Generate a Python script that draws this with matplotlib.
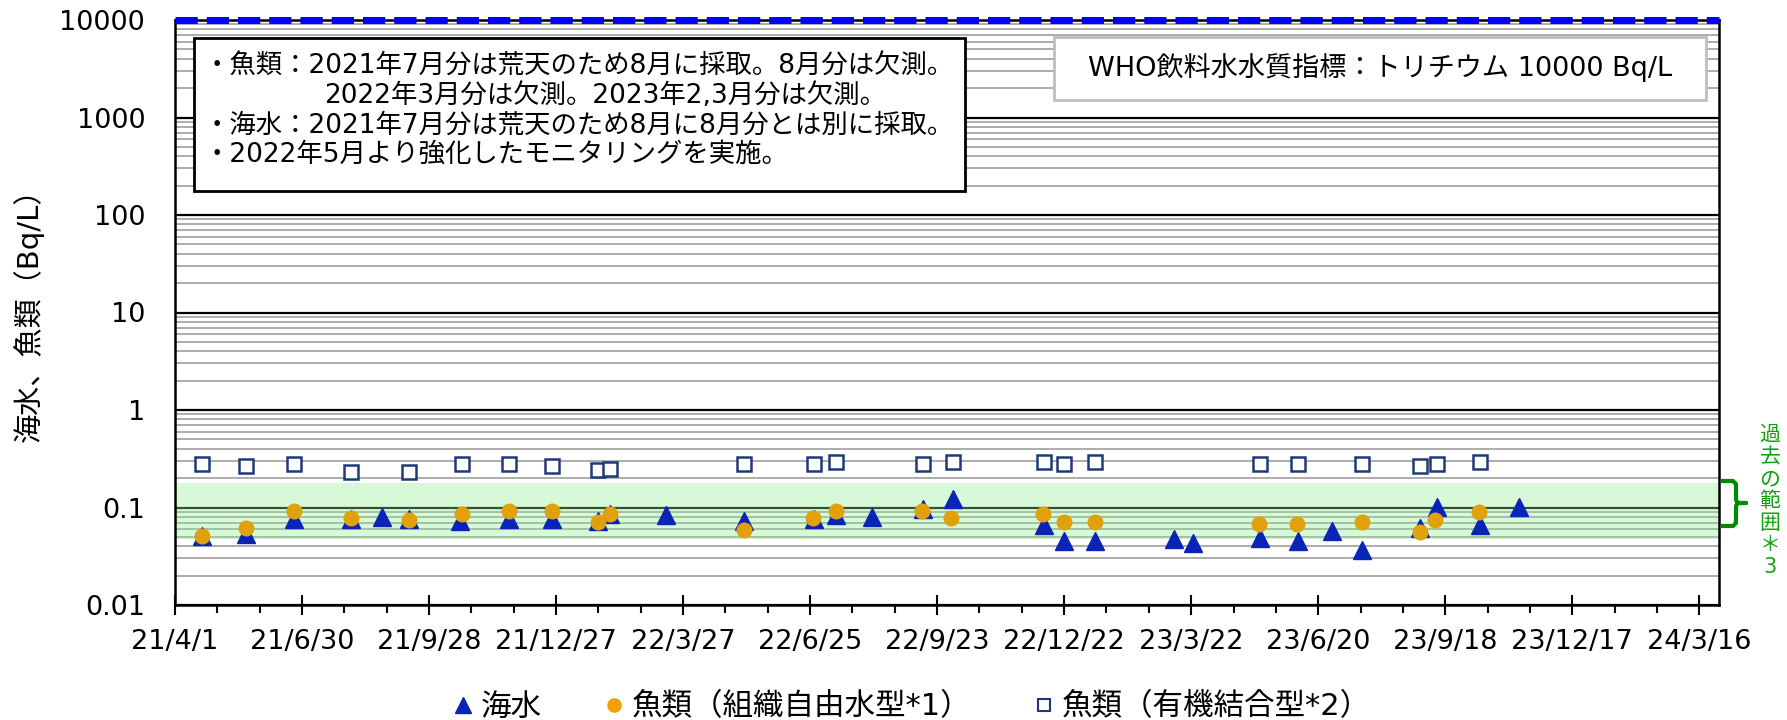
import numpy as np
import matplotlib.pyplot as plt
import matplotlib.dates as mdates
from matplotlib.lines import Line2D
from matplotlib.patches import Rectangle
from matplotlib.ticker import FixedLocator, NullFormatter, LogLocator

plt.rcParams['font.family'] = ['DejaVu Sans', 'Noto Sans CJK JP']

# 海水
sea_dates = ['2021-04-20', '2021-05-21', '2021-06-24', '2021-08-04', '2021-08-26', '2021-09-14',
             '2021-10-20', '2021-11-24', '2021-12-24', '2022-01-26', '2022-02-03', '2022-03-15',
             '2022-05-09', '2022-06-28', '2022-07-13', '2022-08-08', '2022-09-13', '2022-10-04',
             '2022-12-08', '2022-12-22', '2023-01-13', '2023-03-10', '2023-03-23', '2023-05-10',
             '2023-06-06', '2023-06-30', '2023-07-21', '2023-08-31', '2023-09-12', '2023-10-13',
             '2023-11-09']
sea_vals = [0.051, 0.054, 0.076, 0.076, 0.080, 0.076,
            0.072, 0.076, 0.076, 0.072, 0.085, 0.084,
            0.072, 0.076, 0.084, 0.080, 0.097, 0.123,
            0.066, 0.045, 0.045, 0.047, 0.043, 0.049,
            0.045, 0.058, 0.037, 0.062, 0.102, 0.066,
            0.102]

# 魚類（組織自由水型）
ffree_dates = ['2021-04-20', '2021-05-21', '2021-06-24', '2021-08-04', '2021-09-14', '2021-10-21',
               '2021-11-24', '2021-12-24', '2022-01-26', '2022-02-03', '2022-05-09', '2022-06-27',
               '2022-07-13', '2022-09-12', '2022-10-03', '2022-12-07', '2022-12-22', '2023-01-13',
               '2023-05-09', '2023-06-05', '2023-07-21', '2023-08-31', '2023-09-11', '2023-10-12']
ffree_vals = [0.051, 0.062, 0.091, 0.078, 0.075, 0.086,
              0.091, 0.091, 0.071, 0.086, 0.059, 0.078,
              0.091, 0.091, 0.078, 0.086, 0.071, 0.071,
              0.068, 0.068, 0.071, 0.056, 0.075, 0.090]

# 魚類（有機結合型）
fobt_dates = ['2021-04-20', '2021-05-21', '2021-06-24', '2021-08-04', '2021-09-14', '2021-10-21',
              '2021-11-24', '2021-12-24', '2022-01-26', '2022-02-03', '2022-05-09', '2022-06-28',
              '2022-07-13', '2022-09-13', '2022-10-04', '2022-12-08', '2022-12-22', '2023-01-13',
              '2023-05-10', '2023-06-06', '2023-07-21', '2023-08-31', '2023-09-12', '2023-10-13']
fobt_vals = [0.28, 0.265, 0.28, 0.23, 0.23, 0.28,
             0.28, 0.265, 0.24, 0.25, 0.28, 0.28,
             0.29, 0.28, 0.29, 0.29, 0.28, 0.29,
             0.28, 0.28, 0.28, 0.265, 0.28, 0.29]

past_range = [0.048, 0.18]
who_level = 10000
y_ticks = [0.01, 0.1, 1, 10, 100, 1000, 10000]
y_labels = ['0.01', '0.1', '1', '10', '100', '1000', '10000']

W, H = 1787, 720
fig = plt.figure(figsize=(W / 100, H / 100), dpi=100)
ax = fig.add_axes([175 / W, 1 - 605 / H, (1719 - 175) / W, (605 - 20) / H])

def dnum(lst):
    return mdates.date2num(np.array(lst, dtype='datetime64[D]'))

x0 = mdates.date2num(np.datetime64('2021-04-01'))
x1 = x0 + 1094
ax.set_xlim(x0, x1)
ax.set_yscale('log')
ax.set_ylim(0.01, 10000)

major = x0 + np.arange(0, 1094, 90)
minor = [m for m in x0 + np.arange(0, 1094, 30) if m not in major]
ax.xaxis.set_major_locator(FixedLocator(major))
ax.xaxis.set_minor_locator(FixedLocator(minor))
xlab = []
for m in major:
    d = mdates.num2date(m)
    xlab.append(f'{d.year % 100}/{d.month}/{d.day}')
ax.set_xticklabels(xlab)
ax.tick_params(axis='x', which='major', direction='inout', length=14, width=1.5, pad=10, labelsize=19.5)
ax.tick_params(axis='x', which='minor', direction='out', length=6, width=1.5)

ax.set_yticks(y_ticks, y_labels)
ax.yaxis.set_minor_locator(LogLocator(base=10, subs=np.arange(2, 10)))
ax.yaxis.set_minor_formatter(NullFormatter())
ax.tick_params(axis='y', which='both', length=0, pad=21.5, labelsize=19.5)

ax.set_axisbelow(True)
ax.grid(which='major', axis='y', color='black', lw=1.6)
ax.grid(which='minor', axis='y', color='#A6A6A6', lw=1.3)
ax.grid(False, axis='x', which='both')
for s in ax.spines.values():
    s.set_linewidth(1.8)

ax.axhspan(past_range[0], past_range[1], color='#90EE90', alpha=0.35, lw=0, zorder=1)
ax.axhline(who_level, color='#0000FF', lw=5, dashes=(3.2, 1.3), clip_on=False, zorder=5)

ax.plot(dnum(sea_dates), sea_vals, '^', ms=12.5, color='#0A24B8', mec='#0A24B8', ls='none', zorder=3)
ax.plot(dnum(ffree_dates), ffree_vals, 'o', ms=11.5, color='#E0A10C', mec='none', ls='none', zorder=4)
ax.plot(dnum(fobt_dates), fobt_vals, 's', ms=9.5, mfc='white', mec='#1F3A78', mew=1.8, ls='none', zorder=4)

# 注記ボックス
fig.add_artist(Rectangle((194 / W, 1 - 191 / H), (965 - 194) / W, (191 - 38) / H,
                         transform=fig.transFigure, facecolor='white', edgecolor='black', lw=2))
notes = ['・魚類：2021年7月分は荒天のため8月に採取。8月分は欠測。',
         '2022年3月分は欠測。2023年2,3月分は欠測。',
         '・海水：2021年7月分は荒天のため8月に8月分とは別に採取。',
         '・2022年5月より強化したモニタリングを実施。']
note_x = [204, 324, 204, 204]
note_y = [67, 96, 126, 155]
for t, nx, ny in zip(notes, note_x, note_y):
    fig.text(nx / W, 1 - ny / H, t, va='center', ha='left', fontsize=19)

fig.add_artist(Rectangle((1054 / W, 1 - 100 / H), (1706 - 1054) / W, (100 - 37) / H,
                         transform=fig.transFigure, facecolor='white', edgecolor='#BFBFBF', lw=2))
fig.text(1380 / W, 1 - 68 / H, 'WHO飲料水水質指標：トリチウム 10000 Bq/L',
         ha='center', va='center', fontsize=19.5)

# 過去の範囲
bx = [1723, 1733, 1736, 1736, 1738, 1746, 1738, 1736, 1736, 1733, 1723]
by = [481, 481, 484, 500, 503, 503, 503, 506, 523, 526, 526]
fig.add_artist(Line2D([v / W for v in bx], [1 - v / H for v in by], transform=fig.transFigure,
                      color='#008A00', lw=3, solid_joinstyle='round'))
for i, ch in enumerate('過去の範囲＊3'):
    fig.text(1770 / W, 1 - (435 + i * 22) / H, ch, ha='center', va='center',
             fontsize=15, color='#11A011')

fig.text(28 / W, 1 - 308 / H, '海水、魚類（Bq/L）', rotation=90, ha='center', va='center', fontsize=21)

handles = [Line2D([], [], marker='^', ls='none', ms=12, color='#0A24B8'),
           Line2D([], [], marker='o', ls='none', ms=10.5, color='#F0A000', mec='none'),
           Line2D([], [], marker='s', ls='none', ms=8, mfc='white', mec='#1F3A78', mew=1.5)]
labels = ['海水', '魚類（組織自由水型*1）', '魚類（有機結合型*2）']
fig.legend(handles, labels, loc='center', bbox_to_anchor=(911 / W, 1 - 707 / H), ncol=3,
           frameon=False, fontsize=22, handletextpad=0.2, handlelength=0.75, columnspacing=2.0)

fig.savefig('out.png', dpi=100)
